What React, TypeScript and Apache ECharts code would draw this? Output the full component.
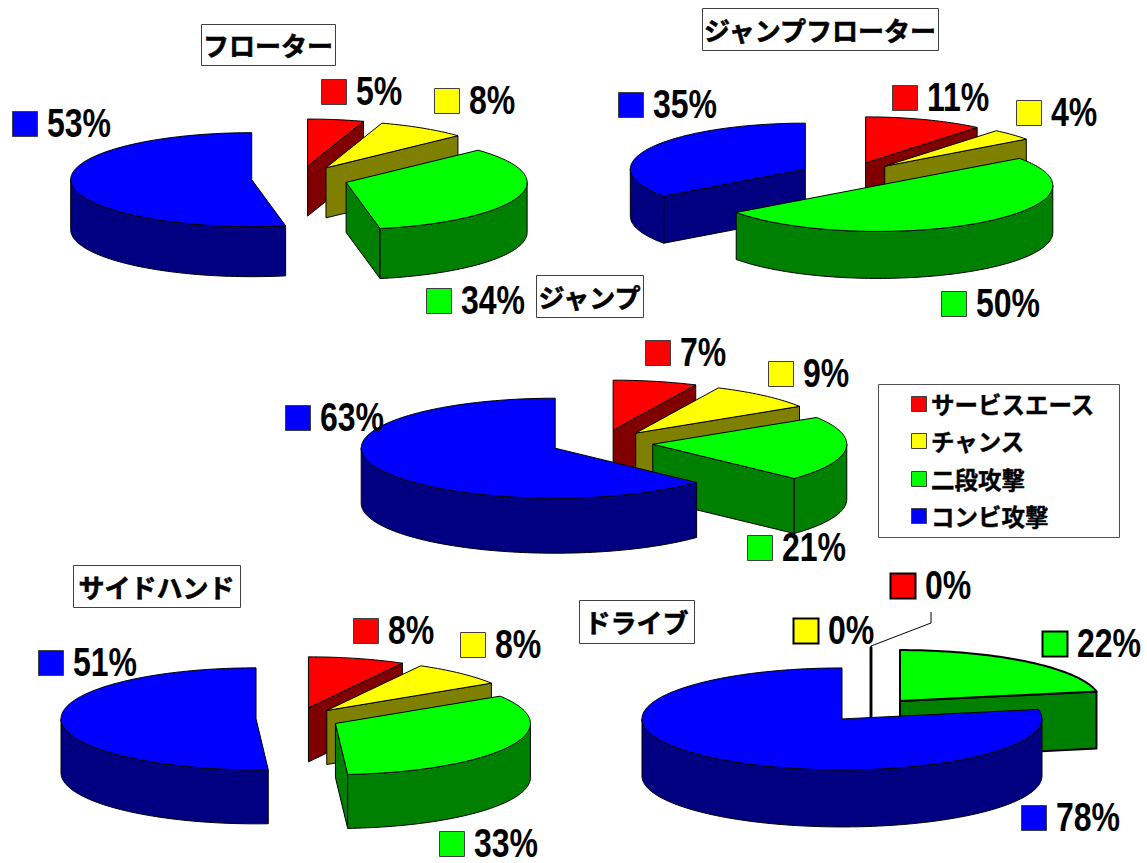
import React, { useEffect, useRef } from "react";
import * as echarts from "echarts";

// Serve types, in the order the slices run clockwise from twelve o'clock.
const serveOutcomes = ["サービスエース", "チャンス", "二段攻撃", "コンビ攻撃"];
const topColors = ["#ff0000", "#ffff00", "#00ff00", "#0000ff"];
const wallColors = ["#800000", "#808000", "#008000", "#000080"];

const pieTitles = ["フローター", "ジャンプフローター", "ジャンプ", "サイドハンド", "ドライブ"];

const floaterShares = [5, 8, 34, 53];
const jumpFloaterShares = [11, 4, 50, 35];
const jumpShares = [7, 9, 21, 63];
const sideHandShares = [8, 8, 33, 51];
const driveShares = [0, 0, 22, 78];
const pieShares = [floaterShares, jumpFloaterShares, jumpShares, sideHandShares, driveShares];

// Geometry of each tilted pie: centre, radii, extrusion depth, explosion distance.
const pieLayouts = [
  { cx: 300, cy: 178.5, rx: 181, ry: 47, depth: 50, explode: 48.5, line: 1 },
  { cx: 849, cy: 175, rx: 175, ry: 46, depth: 47, explode: 49, line: 1 },
  { cx: 602, cy: 443, rx: 194, ry: 50, depth: 55, explode: 51, line: 1 },
  { cx: 298, cy: 718.5, rx: 195, ry: 51, depth: 54, explode: 42, line: 1 },
  { cx: 871, cy: 710, rx: 200, ry: 51, depth: 57, explode: 45.5, line: 2 },
];

// Title boxes: left, top, width, height.
const titleBoxes = [
  [201, 24, 134, 41],
  [702, 8, 236, 42],
  [536, 275, 107, 42],
  [73, 565, 167, 42],
  [579, 600, 115, 43],
];

// Swatch corner for each percentage label, per pie and per slice.
const labelCorners = [
  [[321, 79], [434, 88], [426, 288], [12, 111]],
  [[892, 85], [1016, 100], [941, 291], [618, 92]],
  [[645, 340], [768, 361], [747, 535], [285, 405]],
  [[353, 618], [460, 632], [439, 831], [38, 650]],
  [[890, 573], [793, 618], [1042, 631], [1021, 805]],
];

const legendRows = [404, 441, 479, 516];

const NUMBER_FONT = '"Liberation Sans", sans-serif';
const CJK_FONT = '"Noto Sans CJK JP", sans-serif';

const toRad = (deg: number) => (deg * Math.PI) / 180;

// Angular span of every slice of one pie, taken from its shares.
function sliceSpans(shares: number[]) {
  const total = shares.reduce((sum, v) => sum + v, 0);
  let running = 0;
  return shares.map((v) => {
    const start = (running / total) * 360;
    running += v;
    return { start, end: (running / total) * 360 };
  });
}

function pieSeries(pieIndex: number) {
  const shares = pieShares[pieIndex];
  const layout = pieLayouts[pieIndex];
  const spans = sliceSpans(shares);

  const apexOf = (slice: number) => {
    const mid = toRad((spans[slice].start + spans[slice].end) / 2);
    return {
      x: layout.cx + layout.explode * Math.sin(mid),
      y: layout.cy - (layout.explode * Math.cos(mid) * layout.ry) / layout.rx,
    };
  };

  // Slices further from the viewer are painted first.
  const paintOrder = shares.map((_, i) => i).sort((a, b) => apexOf(a).y - apexOf(b).y);

  return {
    type: "custom",
    coordinateSystem: "none",
    silent: true,
    z: 2,
    data: paintOrder.map((slice) => [slice, shares[slice]]),
    renderItem: (_params: unknown, api: any) => {
      const slice = api.value(0) as number;
      const { start, end } = spans[slice];
      const apex = apexOf(slice);
      const rim = (deg: number, drop = 0): number[] => [
        apex.x + layout.rx * Math.sin(toRad(deg)),
        apex.y - layout.ry * Math.cos(toRad(deg)) + drop,
      ];
      const arc = (from: number, to: number, drop = 0) => {
        const steps = Math.max(1, Math.ceil(Math.abs(to - from) / 1.5));
        const pts: number[][] = [];
        for (let i = 0; i <= steps; i++) pts.push(rim(from + ((to - from) * i) / steps, drop));
        return pts;
      };
      const shapeStyle = (fill: string, width?: number) => ({
        fill,
        stroke: "#000000",
        lineWidth: width ?? (layout.line === 2 && slice === 3 ? 1 : layout.line),
        lineJoin: "round",
      });
      const wall = (deg: number, width?: number) => ({
        type: "polygon",
        shape: {
          points: [
            [apex.x, apex.y],
            rim(deg),
            rim(deg, layout.depth),
            [apex.x, apex.y + layout.depth],
          ],
        },
        style: shapeStyle(wallColors[slice], width),
      });

      const children: any[] = [];
      if (end === start) {
        // An empty slice collapses to a single upright edge.
        children.push(wall(start, 2.5));
      } else {
        if (Math.sin(toRad(start)) < -1e-6) children.push(wall(start));
        if (Math.sin(toRad(end)) > 1e-6) children.push(wall(end));
        const frontFrom = Math.max(start, 90);
        const frontTo = Math.min(end, 270);
        if (frontTo > frontFrom) {
          children.push({
            type: "polygon",
            shape: {
              points: [...arc(frontFrom, frontTo), ...arc(frontTo, frontFrom, layout.depth)],
            },
            style: shapeStyle(wallColors[slice]),
          });
        }
        children.push({
          type: "polygon",
          shape: { points: [[apex.x, apex.y], ...arc(start, end)] },
          style: shapeStyle(topColors[slice]),
        });
      }
      return { type: "group", children };
    },
  };
}

function titleGraphics() {
  return pieTitles.map((title, i) => {
    const [x, y, w, h] = titleBoxes[i];
    return {
      type: "group",
      z: 5,
      children: [
        {
          type: "rect",
          shape: { x: x + 0.5, y: y + 0.5, width: w, height: h },
          style: { fill: "#ffffff", stroke: "#404040", lineWidth: 1 },
        },
        {
          type: "text",
          style: {
            text: title,
            x: x + w / 2,
            y: y + h / 2,
            align: "center",
            verticalAlign: "middle",
            fontFamily: CJK_FONT,
            fontWeight: "bold",
            fontSize: 26,
            fill: "#000000",
            stroke: "#000000",
            lineWidth: 0.6,
          },
        },
      ],
    };
  });
}

function labelGraphics() {
  const out: any[] = [];
  pieShares.forEach((shares, p) => {
    shares.forEach((value, s) => {
      const [x, y] = labelCorners[p][s];
      const heavy = pieLayouts[p].line === 2 && s !== 3;
      out.push({
        type: "rect",
        z: 6,
        shape: { x: x + 0.5, y: y + 0.5, width: 25, height: 25 },
        style: { fill: topColors[s], stroke: heavy ? "#000000" : "#404040", lineWidth: heavy ? 2 : 1 },
      });
      out.push({
        type: "text",
        z: 6,
        x: x + 35,
        y: y + 12,
        scaleX: 0.8,
        style: {
          text: `${value}%`,
          x: 0,
          y: 0,
          align: "left",
          verticalAlign: "middle",
          fontFamily: NUMBER_FONT,
          fontWeight: "bold",
          fontSize: 40,
          fill: "#000000",
        },
      });
    });
  });
  return out;
}

function legendGraphics() {
  const items: any[] = [
    {
      type: "rect",
      z: 5,
      shape: { x: 878.5, y: 384.5, width: 241, height: 153 },
      style: { fill: "#ffffff", stroke: "#505050", lineWidth: 1 },
    },
  ];
  serveOutcomes.forEach((name, i) => {
    items.push({
      type: "rect",
      z: 6,
      shape: { x: 911.5, y: legendRows[i] - 7.5, width: 15, height: 15 },
      style: { fill: topColors[i], stroke: "#404040", lineWidth: 1 },
    });
    items.push({
      type: "text",
      z: 6,
      style: {
        text: name,
        x: 931,
        y: legendRows[i],
        align: "left",
        verticalAlign: "middle",
        fontFamily: CJK_FONT,
        fontWeight: "bold",
        fontSize: 23.5,
        fill: "#000000",
        stroke: "#000000",
        lineWidth: 0.4,
      },
    });
  });
  return items;
}

// The leader running from the empty slice of the last pie to its label.
function leaderGraphic() {
  return {
    type: "polyline",
    z: 3,
    shape: { points: [[871, 646], [931, 623], [931, 612]] },
    style: { fill: "none", stroke: "#000000", lineWidth: 1 },
  };
}

export default function App() {
  const hostRef = useRef<HTMLDivElement>(null);

  useEffect(() => {
    if (!hostRef.current) return;
    const chart = echarts.init(hostRef.current, undefined, { renderer: "svg" });
    chart.setOption({
      animation: false,
      backgroundColor: "#ffffff",
      series: pieShares.map((_, i) => pieSeries(i)),
      graphic: [...titleGraphics(), ...labelGraphics(), ...legendGraphics(), leaderGraphic()],
    });
    return () => chart.dispose();
  }, []);

  return (
    <div
      ref={hostRef}
      style={{ position: "absolute", left: 0, top: 0, width: 1147, height: 863 }}
    />
  );
}
